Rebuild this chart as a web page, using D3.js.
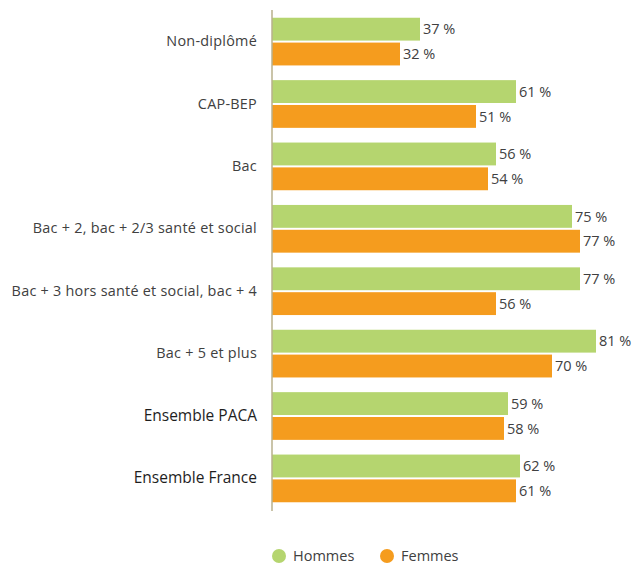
<!DOCTYPE html>
<html><head><meta charset="utf-8">
<script src="https://cdn.jsdelivr.net/npm/d3@7"></script>
<style>body{margin:0;background:#fff}svg{display:block}</style>
</head><body><svg id="c" width="636" height="564"></svg>
<script>
const categories = ["Non-diplômé","CAP-BEP","Bac","Bac + 2, bac + 2/3 santé et social","Bac + 3 hors santé et social, bac + 4","Bac + 5 et plus","Ensemble PACA","Ensemble France"];
const hommes = [37,61,56,75,77,81,59,62];
const femmes = [32,51,54,77,56,70,58,61];
const seriesNames = ["Hommes","Femmes"];
const emphasized = ["Ensemble PACA","Ensemble France"];

const colors = {Hommes:"#b5d56f", Femmes:"#f59c1e"};
const svg = d3.select("#c");
const font = "'Open Sans', sans-serif";
const x0 = 272;
const x = d3.scaleLinear().domain([0,100]).range([x0, x0+400]);
const y = d3.scaleBand().domain(categories).range([10, 510]).paddingInner(0.2356).paddingOuter(0.124);
const sub = d3.scaleBand().domain(seriesNames).range([0, y.bandwidth()]).paddingInner(0.08);

const data = categories.map((c,i)=>({c, vals:[{s:"Hommes",v:hommes[i]},{s:"Femmes",v:femmes[i]}]}));
const g = svg.selectAll("g.grp").data(data).join("g").attr("transform",d=>`translate(0,${y(d.c)})`);
g.selectAll("rect").data(d=>d.vals).join("rect")
  .attr("x",x(0)).attr("y",d=>sub(d.s)).attr("width",d=>x(d.v)-x(0)).attr("height",sub.bandwidth())
  .attr("fill",d=>colors[d.s]);
g.selectAll("text.v").data(d=>d.vals).join("text").attr("class","v")
  .attr("x",d=>x(d.v)+3).attr("y",d=>sub(d.s)+sub.bandwidth()/2).attr("dy","0.36em")
  .attr("font-family",font).attr("font-size",14.5).attr("fill","#404040")
  .text(d=>d.v+" %");

// category axis
const axis = d3.axisLeft(y).tickSize(0).tickPadding(15);
const ax = svg.append("g").attr("transform",`translate(${x0},0)`).call(axis);
ax.attr("font-size",null).attr("font-family",null);
ax.select(".domain").attr("stroke","#b8b08c").attr("stroke-width",1.5).attr("d","M0,10V511");
ax.selectAll("text").attr("font-family",font)
  .style("font-size",d=>emphasized.includes(d)?"15.5px":"14.4px")
  .style("letter-spacing",d=>emphasized.includes(d)?"0px":"0.25px")
  .attr("fill",d=>emphasized.includes(d)?"#1e1e1e":"#404040");

// legend
const leg = svg.append("g");
const lx = [279, 387];
seriesNames.forEach((s,i)=>{
  leg.append("circle").attr("cx",lx[i]).attr("cy",556).attr("r",7).attr("fill",colors[s]);
  leg.append("text").attr("x",lx[i]+14).attr("y",556).attr("dy","0.36em")
    .attr("font-family",font).attr("font-size",14.5).attr("fill","#404040").text(s);
});
</script></body></html>
